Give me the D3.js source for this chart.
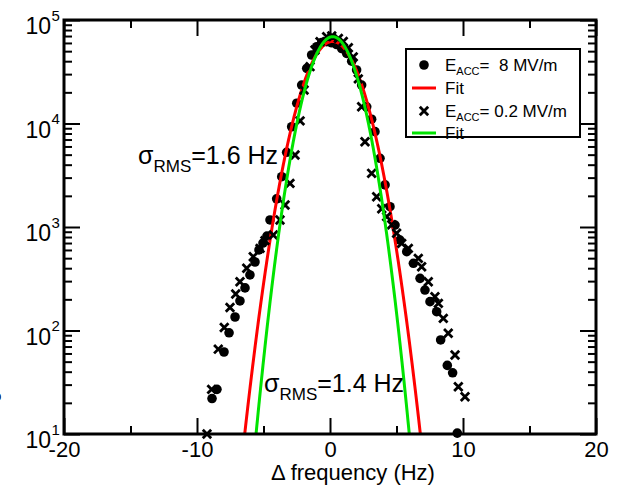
<!DOCTYPE html>
<html><head><meta charset="utf-8">
<script src="https://cdn.jsdelivr.net/npm/d3@7"></script>
<style>
body{margin:0;background:#fff}
svg text{font-family:"Liberation Sans",Arial,Helvetica,sans-serif;fill:#000}
</style>
</head><body>
<svg id="c" width="623" height="493"></svg>
<script>
// E_ACC = 8 MV/m (filled circles)
const circleX = [-8.87,-8.50,-7.97,-7.59,-7.14,-6.77,-6.39,-6.02,-5.64,-5.34,-5.04,-4.74,-4.51,-4.01,-3.63,-3.26,-2.88,-2.50,-2.13,-1.75,-1.38,-1.00,-0.63,-0.25,0.13,0.50,0.88,1.25,1.63,2.00,2.38,2.76,3.13,3.38,3.76,4.14,4.51,4.89,5.26,5.77,6.27,6.77,7.14,7.52,8.02,8.32,8.82,9.22,9.57];
const circleY = [22,27,62,95,135,193,258,344,459,600,700,818,1170,1870,3060,5270,9300,15700,23500,34100,45900,55200,60500,61700,60300,58000,53000,47600,40000,32900,23500,14500,11000,8340,4610,2550,1570,1045,748,577,446,319,246,190,152,81,46,39,10.2];
// E_ACC = 0.2 MV/m (crosses)
const crossX = [-9.25,-8.90,-8.40,-7.95,-7.52,-7.09,-6.77,-6.26,-5.77,-5.26,-4.89,-4.26,-3.76,-3.38,-3.01,-2.63,-2.25,-1.95,-1.50,-1.13,-0.75,-0.25,0.13,0.63,1.00,1.38,1.75,2.13,2.38,2.63,3.13,3.51,3.89,4.26,4.64,5.01,5.39,5.89,6.64,6.89,7.39,7.89,8.15,8.52,8.89,9.40,9.65,10.15];
const crossY = [10,27,66,107,167,225,296,399,516,622,738,838,1170,1630,2640,4960,10600,21100,35400,51300,61800,69000,70000,66500,62000,54000,44000,27000,14500,6670,3300,1960,1500,1260,1050,871,695,622,498,413,296,212,183,131,94,58,28.6,22.9];
// Gaussian fit parameters [8 MV/m, 0.2 MV/m]
const fitAmplitude = [62000, 69000];
const fitCenter = [0.19, 0.20];
const fitSigma = [1.58, 1.37];
const fitColors = ["#ff0000", "#00e400"];
// ticks
const xMajorTicks = [-20,-10,0,10,20];
const xMinorTicks = [-15,-5,5,15];
const yMajorTicks = [1e1,1e2,1e3,1e4,1e5];
const yExponents = ["1","2","3","4","5"];
const legendMain = ["E", "Fit", "E", "Fit"];
const legendSub = ["ACC", "", "ACC", ""];
const legendRest = ["=  8 MV/m", "", "= 0.2 MV/m", ""];
const annSigma = ["=1.6 Hz", "=1.4 Hz"];
const xTitle = "Δ frequency (Hz)";

const svg = d3.select("#c");
const L = 64, R = 596, T = 20, B = 434;
const x = d3.scaleLinear().domain([-20,20]).range([L,R]);
const y = d3.scaleLog().domain([10,1e5]).range([B,T]);

const yMinorTicks = [];
for (let k = 1; k <= 4; k++) for (let m = 2; m <= 9; m++) yMinorTicks.push(m * Math.pow(10, k));

function styleAxis(g, fs) {
  g.select(".domain").remove();
  g.selectAll(".tick line").attr("stroke", "#000").attr("stroke-width", 2);
  g.selectAll(".tick text").attr("font-size", fs).attr("font-family", null).attr("fill", "#000");
}
const MAJ = 16, MIN = 8;
svg.append("g").attr("transform", `translate(0,${B})`)
  .call(d3.axisBottom(x).tickValues(xMajorTicks).tickSizeInner(-MAJ).tickSizeOuter(0).tickPadding(7).tickFormat(d => String(d)))
  .call(g => styleAxis(g, 22));
svg.append("g").attr("transform", `translate(0,${B})`)
  .call(d3.axisBottom(x).tickValues(xMinorTicks).tickSizeInner(-MIN).tickSizeOuter(0).tickFormat(""))
  .call(g => styleAxis(g, 0));
svg.append("g").attr("transform", `translate(0,${T})`)
  .call(d3.axisTop(x).tickValues(xMajorTicks).tickSizeInner(-MAJ).tickSizeOuter(0).tickFormat(""))
  .call(g => styleAxis(g, 0));
svg.append("g").attr("transform", `translate(0,${T})`)
  .call(d3.axisTop(x).tickValues(xMinorTicks).tickSizeInner(-MIN).tickSizeOuter(0).tickFormat(""))
  .call(g => styleAxis(g, 0));
[[L, d3.axisLeft], [R, d3.axisRight]].forEach(([px, ax]) => {
  svg.append("g").attr("transform", `translate(${px},0)`)
    .call(ax(y).tickValues(yMajorTicks).tickSizeInner(-MAJ).tickSizeOuter(0).tickFormat(""))
    .call(g => styleAxis(g, 0));
  svg.append("g").attr("transform", `translate(${px},0)`)
    .call(ax(y).tickValues(yMinorTicks).tickSizeInner(-MIN).tickSizeOuter(0).tickFormat(""))
    .call(g => styleAxis(g, 0));
});

// y tick labels 10^n
yMajorTicks.forEach((t, i) => {
  const yy = y(t);
  svg.append("text").attr("x", 51).attr("y", yy + 14).attr("text-anchor", "end").attr("font-size", 23).text("10");
  svg.append("text").attr("x", 51.5).attr("y", yy + 0.5).attr("font-size", 15).text(yExponents[i]);
});

// clip for lines
svg.append("clipPath").attr("id", "plotclip").append("rect")
  .attr("x", L).attr("y", T).attr("width", R - L).attr("height", B - T);

const xs = d3.range(-20, 20.0001, 0.02);
function fitPath(i) {
  const pts = xs.map(v => [v, fitAmplitude[i] * Math.exp(-Math.pow(v - fitCenter[i], 2) / (2 * fitSigma[i] * fitSigma[i]))])
    .filter(p => p[1] > 3);
  return d3.line().x(p => x(p[0])).y(p => y(p[1]))(pts);
}

// circles (set 0)
svg.append("g").selectAll("circle").data(circleX).join("circle")
  .attr("cx", d => x(d)).attr("cy", (d, i) => y(circleY[i])).attr("r", 4.8).attr("fill", "#000");
// red fit (set 1)
svg.append("path").attr("d", fitPath(0)).attr("fill", "none").attr("stroke", fitColors[0])
  .attr("stroke-width", 3).attr("clip-path", "url(#plotclip)");
// crosses (set 2)
const cs = 4.2;
svg.append("g").selectAll("path").data(crossX).join("path")
  .attr("d", (d, i) => {
    const cx = x(d), cy = y(crossY[i]);
    return `M${cx - cs},${cy - cs}L${cx + cs},${cy + cs}M${cx - cs},${cy + cs}L${cx + cs},${cy - cs}`;
  })
  .attr("stroke", "#000").attr("stroke-width", 2.8).attr("fill", "none");
// green fit (set 3)
svg.append("path").attr("d", fitPath(1)).attr("fill", "none").attr("stroke", fitColors[1])
  .attr("stroke-width", 3).attr("clip-path", "url(#plotclip)");

// frame
svg.append("rect").attr("x", L).attr("y", T).attr("width", R - L).attr("height", B - T)
  .attr("fill", "none").attr("stroke", "#000").attr("stroke-width", 3);

// legend
const lg = svg.append("g");
lg.append("rect").attr("x", 406).attr("y", 49).attr("width", 174).attr("height", 88)
  .attr("fill", "#fff").attr("stroke", "#000").attr("stroke-width", 2);
const rowsY = [65, 88, 111, 133];
lg.append("circle").attr("cx", 424).attr("cy", rowsY[0]).attr("r", 4.8).attr("fill", "#000");
lg.append("line").attr("x1", 412).attr("x2", 436).attr("y1", rowsY[1]).attr("y2", rowsY[1]).attr("stroke", fitColors[0]).attr("stroke-width", 3);
lg.append("path").attr("d", `M${424 - cs},${rowsY[2] - cs}L${424 + cs},${rowsY[2] + cs}M${424 - cs},${rowsY[2] + cs}L${424 + cs},${rowsY[2] - cs}`)
  .attr("stroke", "#000").attr("stroke-width", 2.8);
lg.append("line").attr("x1", 412).attr("x2", 436).attr("y1", rowsY[3]).attr("y2", rowsY[3]).attr("stroke", fitColors[1]).attr("stroke-width", 3);
rowsY.forEach((ry, i) => {
  const t = lg.append("text").attr("x", 445).attr("y", ry + 6).attr("font-size", 17).style("white-space", "pre");
  t.append("tspan").text(legendMain[i]);
  if (legendSub[i]) {
    t.append("tspan").attr("font-size", 11).attr("dy", 4).text(legendSub[i]);
    t.append("tspan").attr("dy", -4).text(legendRest[i]);
  }
});

// annotations
function sigmaLabel(px, py, rest) {
  const t = svg.append("text").attr("x", px).attr("y", py).attr("font-size", 25);
  t.append("tspan").text("σ");
  t.append("tspan").attr("font-size", 17).attr("dy", 8).text("RMS");
  t.append("tspan").attr("dy", -8).text(rest);
}
sigmaLabel(138, 164, annSigma[0]);
sigmaLabel(264, 392, annSigma[1]);

// x axis title
svg.append("text").attr("x", 353).attr("y", 480).attr("text-anchor", "middle").attr("font-size", 22).text(xTitle);
// clipped glyph at left edge
svg.append("text").attr("x", -7).attr("y", 401).attr("font-size", 15).text("o");
</script>
</body></html>
